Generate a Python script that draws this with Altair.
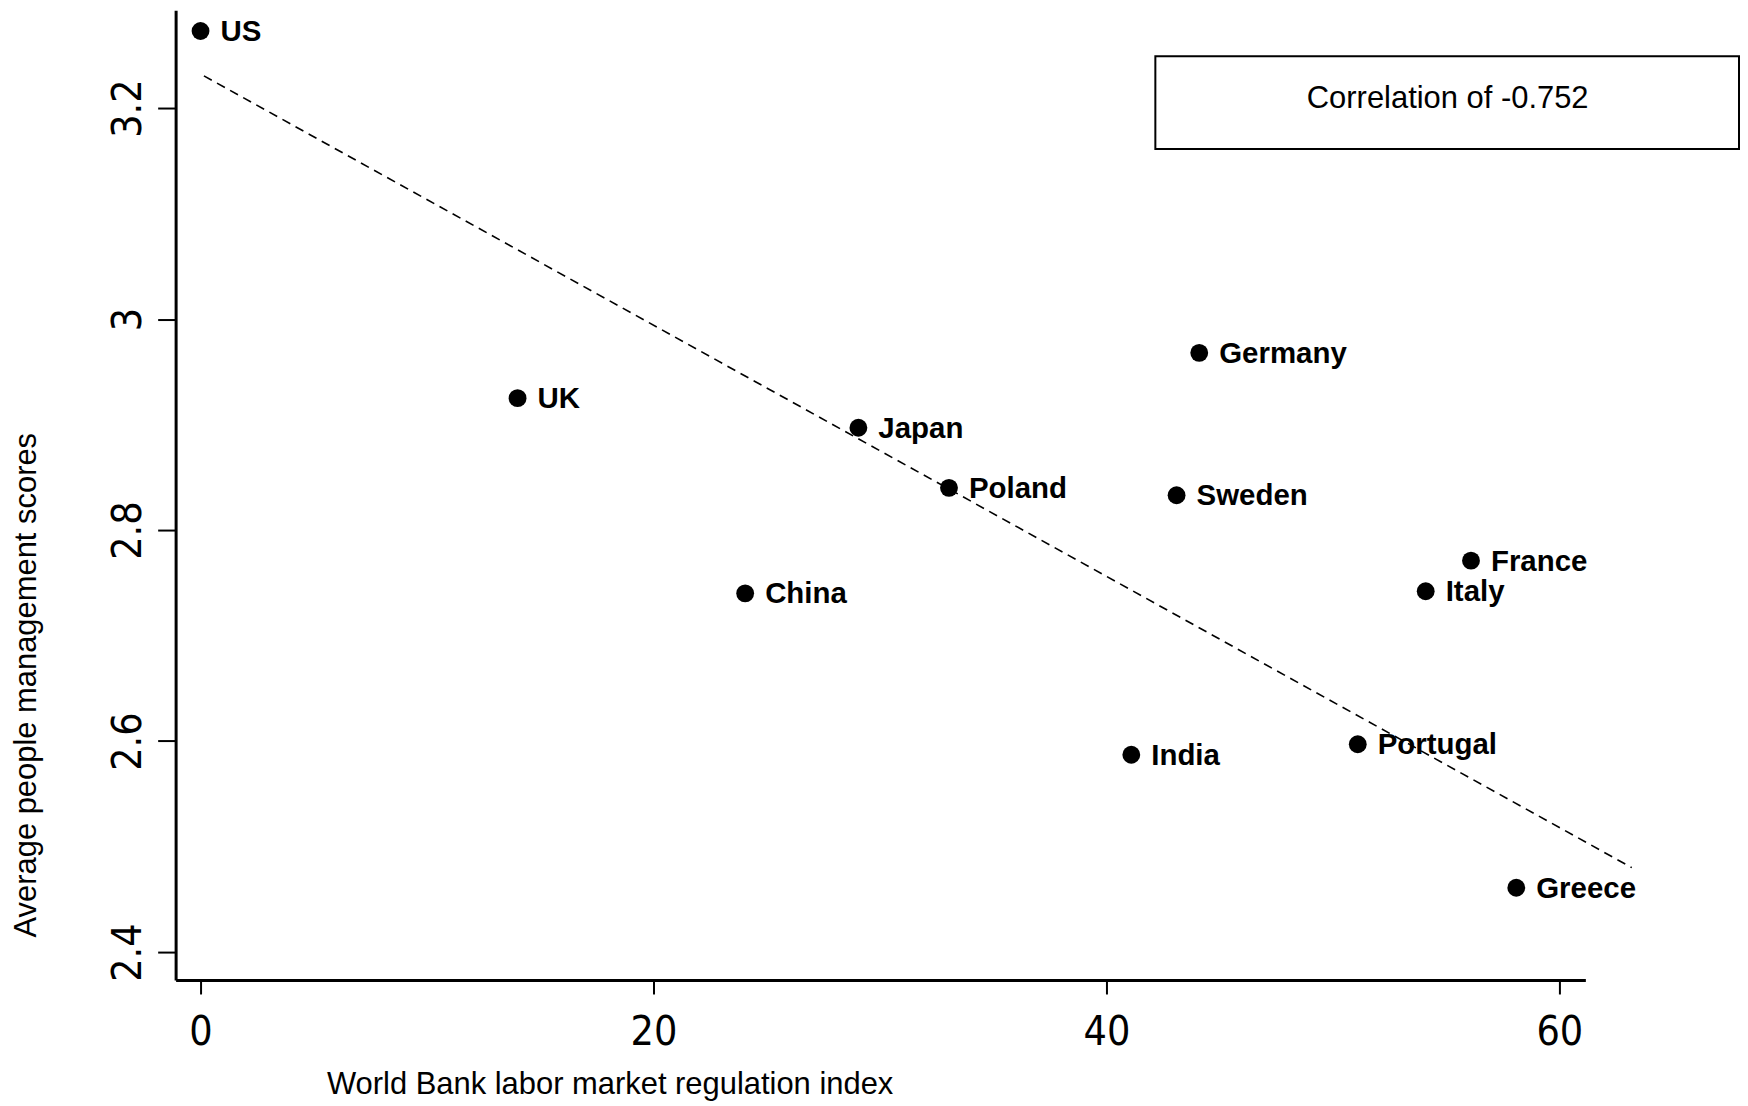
import altair as alt
import pandas as pd

# ---- data ----
countries = ["US", "UK", "Japan", "Poland", "China", "Germany", "Sweden",
             "India", "Portugal", "France", "Italy", "Greece"]
regulation = [0, 14, 29.05, 33.05, 24.05, 44.1, 43.1, 41.1, 51.1, 56.1, 54.1, 58.1]
scores = [3.273, 2.925, 2.897, 2.840, 2.740, 2.968, 2.833,
          2.587, 2.597, 2.771, 2.742, 2.461]

fit_x = [0.15, 63.2]
fit_y = [3.2305, 2.480]

x_ticks = [0, 20, 40, 60]
y_ticks = [2.4, 2.6, 2.8, 3.0, 3.2]

correlation_text = "Correlation of -0.752"

df = pd.DataFrame({"country": countries, "x": regulation, "y": scores})
fit = pd.DataFrame({"x": fit_x, "y": fit_y})
note = pd.DataFrame({"t": [correlation_text]})

NARROW = "'Liberation Sans Narrow', 'Arial Narrow', 'DejaVu Sans Condensed', sans-serif"
SANS = "'Liberation Sans', Arial, sans-serif"

xscale = alt.Scale(domain=[-1.1, 61.15], nice=False, zero=False)
yscale = alt.Scale(domain=[2.3735, 3.2927], nice=False, zero=False)

xaxis = alt.Axis(
    title="World Bank labor market regulation index", values=x_ticks, grid=False,
    domainColor="black", domainWidth=3, tickColor="black", tickWidth=2, tickSize=14,
    labelFont=NARROW, labelFontSize=41, labelColor="black", labelPadding=19,
    labelFlush=False, titleFont=SANS, titleFontSize=31, titleFontWeight="normal",
    titleColor="black", titleX=435, titleY=105, titleAlign="center",
    titleBaseline="middle",
)
yaxis = alt.Axis(
    title="Average people management scores", values=y_ticks, format=".1~f",
    grid=False, domainColor="black", domainWidth=3, tickColor="black", tickWidth=2,
    tickSize=18, labelFont=NARROW, labelFontSize=41, labelColor="black",
    labelAngle=270, labelAlign="center", labelBaseline="bottom", labelPadding=8,
    labelFlush=False, titleFont=SANS, titleFontSize=31, titleFontWeight="normal",
    titleColor="black", titleAngle=270, titleX=-149, titleY=676,
    titleAlign="center", titleBaseline="middle",
)

line = alt.Chart(fit).mark_line(
    color="black", strokeDash=[9, 6], strokeWidth=1.6, clip=False
).encode(
    x=alt.X("x:Q", scale=xscale, axis=xaxis),
    y=alt.Y("y:Q", scale=yscale, axis=yaxis),
)

points = alt.Chart(df).mark_point(
    shape="circle", filled=True, size=320, color="black", opacity=1
).encode(x=alt.X("x:Q", scale=xscale), y=alt.Y("y:Q", scale=yscale))

labels = alt.Chart(df).mark_text(
    align="left", baseline="alphabetic", dx=20, dy=10, font=SANS,
    fontWeight="bold", fontSize=29.5, color="black"
).encode(x=alt.X("x:Q", scale=xscale), y=alt.Y("y:Q", scale=yscale), text="country:N")

box = alt.Chart(note).mark_rect(
    fill="white", stroke="black", strokeWidth=2
).encode(x=alt.value(982), x2=alt.value(1567), y=alt.value(46), y2=alt.value(139))

box_text = alt.Chart(note).mark_text(
    font=SANS, fontSize=31, color="black", align="center", baseline="middle"
).encode(x=alt.value(1275), y=alt.value(89), text="t:N")

chart = alt.layer(line, points, labels, box, box_text).properties(
    width=1413, height=972,
    padding={"left": 168, "top": 1, "right": 155, "bottom": 121},
    autosize=alt.AutoSizeParams(type="none"),
    background="white",
).configure_view(stroke=None)

chart.save("out.html", embed_options={"renderer": "svg", "actions": False})
